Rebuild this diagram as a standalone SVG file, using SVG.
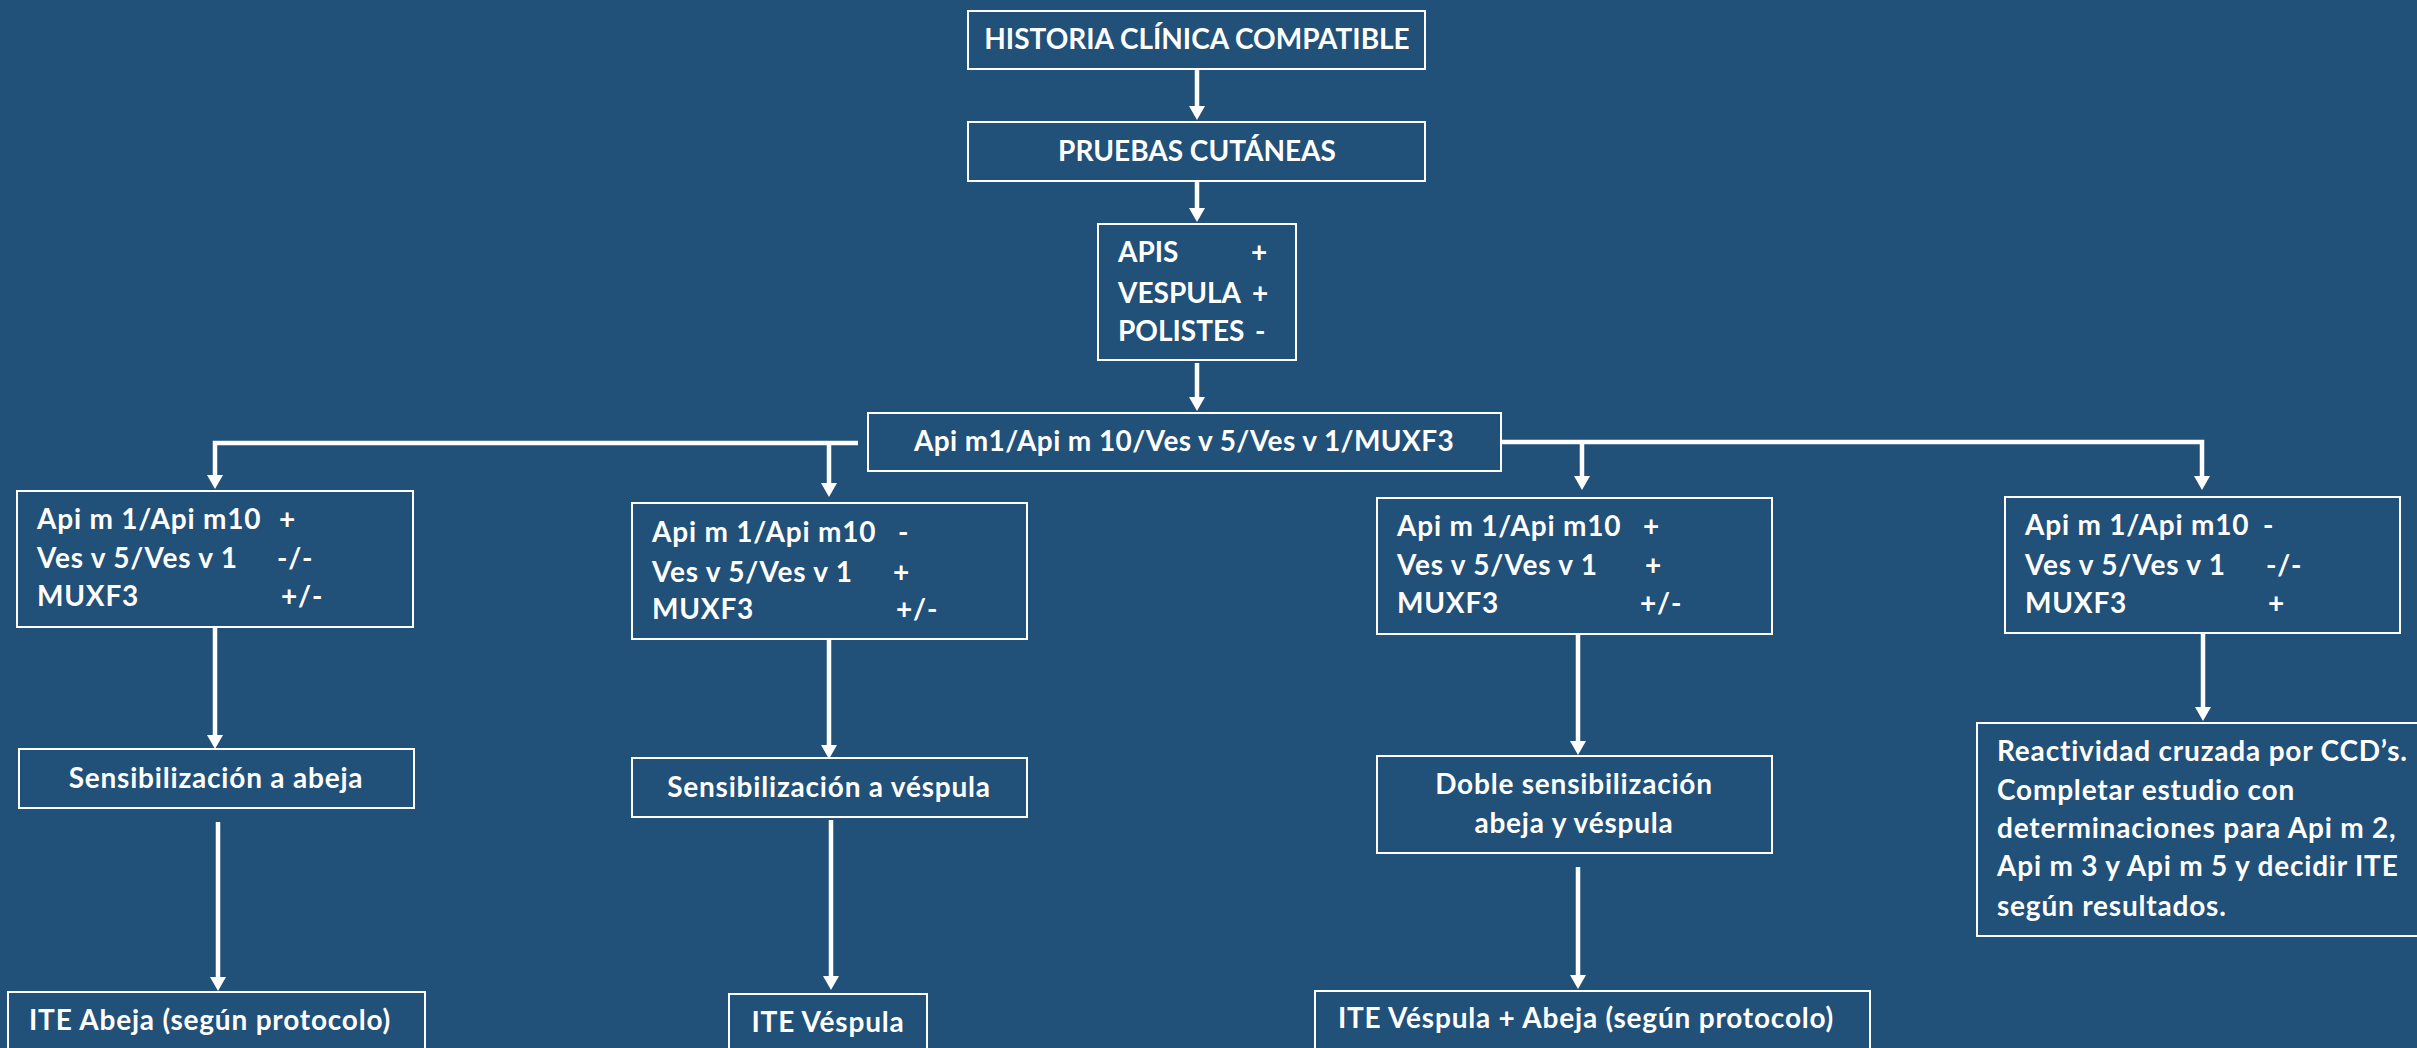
<svg xmlns="http://www.w3.org/2000/svg" width="2417" height="1048" viewBox="0 0 2417 1048">
  <defs>
    <marker id="arrow" viewBox="0 0 14 16" markerWidth="14" markerHeight="16" refX="1" refY="8" orient="auto" markerUnits="userSpaceOnUse">
      <path d="M0,0 L14,8 L0,16 Z" fill="#ffffff"/>
    </marker>
    <style>
      .box { fill: none; stroke: #ffffff; stroke-width: 2; }
      .lbl { font-family: Lato, "Liberation Sans", sans-serif; font-weight: bold; font-size: 28px; fill: #ffffff; }
      .lc { letter-spacing: 0.8px; }
      .mid { text-anchor: middle; }
      .arrow { fill: none; stroke: #ffffff; stroke-width: 4.5; marker-end: url(#arrow); }
    </style>
  </defs>

  <rect width="2417" height="1048" fill="#215079"/>

  <!-- connectors -->
  <g id="connectors">
    <path class="arrow" d="M1197,69 V107"/>
    <path class="arrow" d="M1197,181 V209"/>
    <path class="arrow" d="M1197,363 V398"/>
    <!-- distribution bar -->
    <path class="arrow" d="M858,443 H215 V476"/>
    <path class="arrow" d="M829,443 V484"/>
    <path class="arrow" d="M1501,442 H2202 V477"/>
    <path class="arrow" d="M1582,442 V477"/>
    <!-- second level -->
    <path class="arrow" d="M215,627 V736"/>
    <path class="arrow" d="M829,639 V746"/>
    <path class="arrow" d="M1578,634 V742"/>
    <path class="arrow" d="M2203,633 V708"/>
    <!-- third level -->
    <path class="arrow" d="M218,822 V978"/>
    <path class="arrow" d="M831,820 V977"/>
    <path class="arrow" d="M1578,867 V976"/>
  </g>

  <g id="historia">
    <rect class="box" x="968" y="11" width="457" height="58"/>
    <text class="lbl mid" x="1197" y="49">HISTORIA CLÍNICA COMPATIBLE</text>
  </g>

  <g id="pruebas">
    <rect class="box" x="968" y="122" width="457" height="59"/>
    <text class="lbl mid" x="1197" y="161">PRUEBAS CUTÁNEAS</text>
  </g>

  <g id="resultado-cutaneo">
    <rect class="box" x="1098" y="224" width="198" height="136"/>
    <text class="lbl" x="1118" y="262">APIS<tspan x="1251">+</tspan></text>
    <text class="lbl" x="1118" y="303">VESPULA<tspan x="1252">+</tspan></text>
    <text class="lbl" x="1118" y="341">POLISTES<tspan x="1255">-</tspan></text>
  </g>

  <g id="componentes">
    <rect class="box" x="868" y="413" width="633" height="58"/>
    <text class="lbl mid" x="1184" y="451" letter-spacing="0.4">Api m1/Api m 10/Ves v 5/Ves v 1/MUXF3</text>
  </g>

  <g id="perfil-abeja">
    <rect class="box" x="17" y="491" width="396" height="136"/>
    <text class="lbl lc" x="37" y="529">Api m 1/Api m10<tspan x="279">+</tspan></text>
    <text class="lbl lc" x="37" y="568">Ves v 5/Ves v 1<tspan x="277">-/-</tspan></text>
    <text class="lbl lc" x="37" y="606">MUXF3<tspan x="281">+/-</tspan></text>
  </g>

  <g id="perfil-vespula">
    <rect class="box" x="632" y="503" width="395" height="136"/>
    <text class="lbl lc" x="652" y="542">Api m 1/Api m10<tspan x="898">-</tspan></text>
    <text class="lbl lc" x="652" y="582">Ves v 5/Ves v 1<tspan x="893">+</tspan></text>
    <text class="lbl lc" x="652" y="619">MUXF3<tspan x="896">+/-</tspan></text>
  </g>

  <g id="perfil-doble">
    <rect class="box" x="1377" y="498" width="395" height="136"/>
    <text class="lbl lc" x="1397" y="536">Api m 1/Api m10<tspan x="1643">+</tspan></text>
    <text class="lbl lc" x="1397" y="575">Ves v 5/Ves v 1<tspan x="1645">+</tspan></text>
    <text class="lbl lc" x="1397" y="613">MUXF3<tspan x="1640">+/-</tspan></text>
  </g>

  <g id="perfil-ccd">
    <rect class="box" x="2005" y="497" width="395" height="136"/>
    <text class="lbl lc" x="2025" y="535">Api m 1/Api m10<tspan x="2263">-</tspan></text>
    <text class="lbl lc" x="2025" y="575">Ves v 5/Ves v 1<tspan x="2266">-/-</tspan></text>
    <text class="lbl lc" x="2025" y="613">MUXF3<tspan x="2268">+</tspan></text>
  </g>

  <g id="sens-abeja">
    <rect class="box" x="19" y="749" width="395" height="59"/>
    <text class="lbl lc mid" x="216" y="788">Sensibilización a abeja</text>
  </g>

  <g id="sens-vespula">
    <rect class="box" x="632" y="758" width="395" height="59"/>
    <text class="lbl lc mid" x="829" y="797">Sensibilización a véspula</text>
  </g>

  <g id="sens-doble">
    <rect class="box" x="1377" y="756" width="395" height="97"/>
    <text class="lbl lc mid" x="1574" y="794">Doble sensibilización</text>
    <text class="lbl lc mid" x="1574" y="833">abeja y véspula</text>
  </g>

  <g id="reactividad-ccd">
    <rect class="box" x="1977" y="723" width="460" height="213"/>
    <text class="lbl lc" x="1997" y="761">Reactividad cruzada por CCD’s.</text>
    <text class="lbl lc" x="1997" y="800">Completar estudio con</text>
    <text class="lbl lc" x="1997" y="838">determinaciones para Api m 2,</text>
    <text class="lbl lc" x="1997" y="876">Api m 3 y Api m 5 y decidir ITE</text>
    <text class="lbl lc" x="1997" y="916">según resultados.</text>
  </g>

  <g id="ite-abeja">
    <rect class="box" x="8" y="992" width="417" height="70"/>
    <text class="lbl lc mid" x="210" y="1030">ITE Abeja (según protocolo)</text>
  </g>

  <g id="ite-vespula">
    <rect class="box" x="729" y="994" width="198" height="70"/>
    <text class="lbl lc mid" x="828" y="1032">ITE Véspula</text>
  </g>

  <g id="ite-doble">
    <rect class="box" x="1315" y="991" width="555" height="70"/>
    <text class="lbl lc mid" x="1586" y="1028">ITE Véspula + Abeja (según protocolo)</text>
  </g>
</svg>
